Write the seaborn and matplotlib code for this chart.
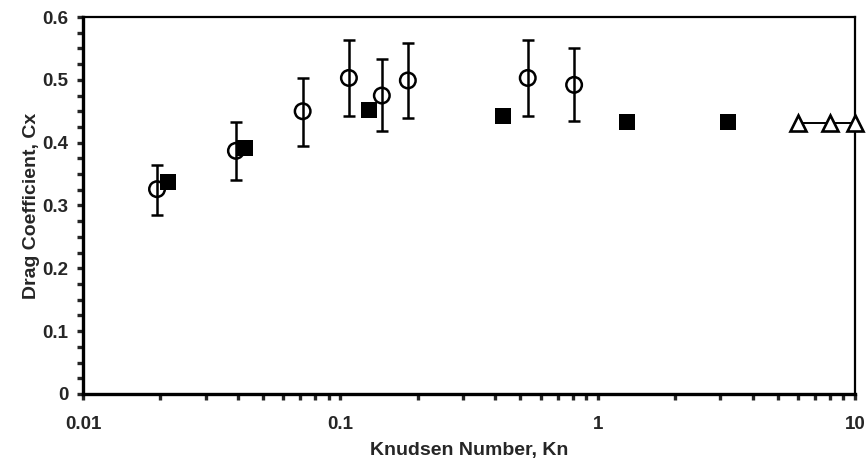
import numpy as np
import pandas as pd
import matplotlib
matplotlib.use('Agg')
import matplotlib.pyplot as plt
import seaborn as sns
from matplotlib.ticker import MultipleLocator, FixedLocator, LogLocator, NullFormatter

# Datos
kn_exp = [0.0194, 0.0393, 0.0714, 0.108, 0.145, 0.183, 0.535, 0.81]
cx_exp = [0.326, 0.387, 0.450, 0.503, 0.475, 0.499, 0.503, 0.492]
cx_low = [0.285, 0.341, 0.395, 0.442, 0.419, 0.439, 0.443, 0.434]
cx_high = [0.365, 0.433, 0.503, 0.563, 0.533, 0.559, 0.564, 0.550]

kn_sq = [0.0214, 0.0426, 0.129, 0.429, 1.30, 3.21]
cx_sq = [0.338, 0.392, 0.452, 0.443, 0.433, 0.433]

kn_tri = [6.0, 8.0, 10.0]
cx_tri = [0.431, 0.431, 0.431]

x_ticks = [0.01, 0.1, 1, 10]
x_labels = ['0.01', '0.1', '1', '10']
y_ticks = [0, 0.1, 0.2, 0.3, 0.4, 0.5, 0.6]
y_labels = ['0', '0.1', '0.2', '0.3', '0.4', '0.5', '0.6']

sns.set_style('ticks')
plt.rcParams['font.family'] = ['Liberation Sans', 'DejaVu Sans']

fig = plt.figure(figsize=(8.66, 4.71), dpi=100)
ax = fig.add_axes([0.0958, 0.1635, 0.8915, 0.8004])

# Barras de error de los circulos
yerr = [np.array(cx_exp) - np.array(cx_low), np.array(cx_high) - np.array(cx_exp)]
ax.errorbar(kn_exp, cx_exp, yerr=yerr, fmt='none', ecolor='black',
            elinewidth=1.8, capsize=4.5, capthick=1.8, zorder=2)

df_exp = pd.DataFrame({'Kn': kn_exp, 'Cx': cx_exp})
sns.scatterplot(data=df_exp, x='Kn', y='Cx', marker='o', s=125,
                facecolor='none', edgecolor='black', linewidth=1.8, ax=ax, zorder=3)

df_sq = pd.DataFrame({'Kn': kn_sq, 'Cx': cx_sq})
sns.scatterplot(data=df_sq, x='Kn', y='Cx', marker='s', s=140,
                color='black', edgecolor='black', linewidth=0, ax=ax, zorder=4)

df_tri = pd.DataFrame({'Kn': kn_tri, 'Cx': cx_tri})
sns.lineplot(data=df_tri, x='Kn', y='Cx', color='black', linewidth=1.4,
             marker='^', markersize=11, markerfacecolor='white',
             markeredgecolor='black', markeredgewidth=1.9, ax=ax, zorder=5,
             clip_on=False)

ax.set_xscale('log')
ax.set_xlim(0.01, 10)
ax.set_ylim(0, 0.6)

ax.xaxis.set_major_locator(FixedLocator(x_ticks))
ax.set_xticklabels(x_labels)
ax.xaxis.set_minor_locator(LogLocator(base=10, subs=np.arange(2, 10)))
ax.xaxis.set_minor_formatter(NullFormatter())
ax.yaxis.set_major_locator(FixedLocator(y_ticks))
ax.set_yticklabels(y_labels)
ax.yaxis.set_minor_locator(MultipleLocator(0.025))

for s in ax.spines.values():
    s.set_linewidth(1.6)
    s.set_color('black')
ax.spines['bottom'].set_linewidth(2.4)
ax.spines['left'].set_linewidth(2.4)

ax.tick_params(which='both', length=4, width=2.4, direction='out')
ax.tick_params(axis='x', which='major', labelsize=13.5, pad=12)
ax.tick_params(axis='y', which='major', labelsize=13.5, pad=6.5)
for lbl in ax.get_xticklabels() + ax.get_yticklabels():
    lbl.set_fontweight('bold')

ax.set_xlabel('Knudsen Number, Kn', fontsize=14, fontweight='bold', labelpad=6)
ax.set_ylabel('Drag Coefficient, Cx', fontsize=14, fontweight='bold', labelpad=2)

fig.savefig('out.png', dpi=100)
